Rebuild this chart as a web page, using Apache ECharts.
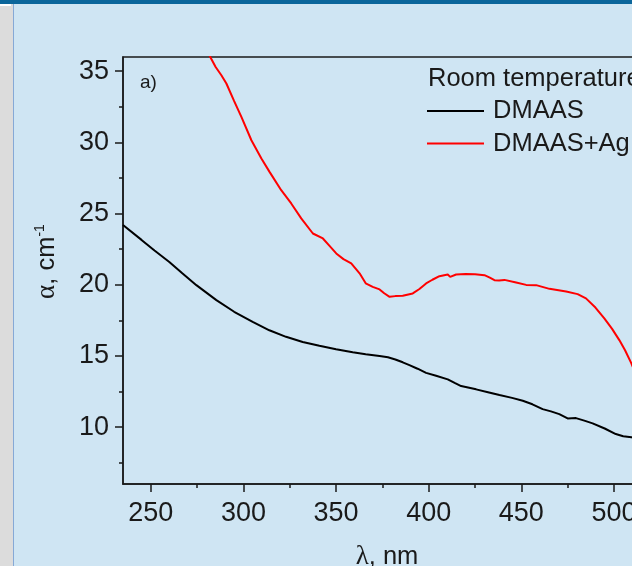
<!DOCTYPE html>
<html>
  <head>
    <meta charset="utf-8" />
    <title>Absorption spectra</title>
    <script src="https://cdn.jsdelivr.net/npm/echarts@6/dist/echarts.min.js"></script>
    <style>
      html, body { margin: 0; padding: 0; overflow: hidden; width: 632px; height: 566px; background: #cfe5f3; }
      #topbar { position: absolute; left: 0; top: 0; width: 632px; height: 4px; background: #0b669b; }
      #side { position: absolute; left: 0; top: 4px; width: 13px; height: 562px; background: #dcdcdc; border-right: 1px solid #86a9d6; }
      #corner { position: absolute; left: 0; top: 4px; width: 11px; height: 2px; background: #ffffff; }
      /* the plot runs a little past the right edge, as in the picture */
      #main { position: absolute; left: 0; top: 0; width: 651px; height: 566px; }
    </style>
  </head>
  <body>
    <div id="topbar"></div>
    <div id="side"></div>
    <div id="corner"></div>
    <div id="main"></div>

    <script type="text/javascript">
      // wavelength (nm) and absorption (cm-1)
      var dmaasX = [235, 245, 252, 260, 267, 274.6, 285.4, 295, 305, 314, 323, 332, 341, 350, 359, 366, 373.5, 378, 382, 386, 389.6, 394, 398.6, 404, 410.3, 414, 417.5, 425.6, 432, 438.2, 445, 450.8, 456, 461.5, 466, 470.5, 475, 479.5, 484, 488.5, 495, 501, 505, 509.4, 515, 520];
      var dmaasY = [24.2, 23.15, 22.4, 21.6, 20.8, 19.97, 18.92, 18.1, 17.39, 16.8, 16.34, 15.98, 15.71, 15.46, 15.25, 15.12, 15.0, 14.9, 14.75, 14.55, 14.35, 14.1, 13.81, 13.6, 13.35, 13.1, 12.88, 12.65, 12.45, 12.25, 12.05, 11.85, 11.6, 11.26, 11.1, 10.91, 10.61, 10.63, 10.45, 10.26, 9.9, 9.51, 9.35, 9.28, 9.15, 9.0];

      var agX = [278, 282.1, 285, 288.1, 290.8, 295, 298.9, 304.3, 309.7, 314.1, 320.4, 325.8, 331.2, 337.5, 342.9, 346, 350.1, 354, 358.2, 362.7, 366, 369.8, 373.5, 376, 378.9, 382, 386, 391.4, 395, 398.6, 402, 405.8, 410.3, 411.6, 414.8, 420, 425, 430.1, 433, 435.5, 438, 440.9, 447.2, 452.6, 458, 465.2, 474.2, 480.4, 484.9, 490, 494.8, 499, 502.9, 506, 509.4, 514, 520];
      var agY = [37.5, 36.0, 35.3, 34.72, 34.14, 32.9, 31.79, 30.15, 28.87, 27.93, 26.64, 25.71, 24.66, 23.6, 23.25, 22.8, 22.2, 21.8, 21.5, 20.8, 20.1, 19.85, 19.67, 19.4, 19.15, 19.2, 19.22, 19.39, 19.7, 20.09, 20.35, 20.6, 20.72, 20.55, 20.72, 20.75, 20.74, 20.67, 20.5, 20.32, 20.3, 20.34, 20.16, 19.99, 19.97, 19.71, 19.53, 19.34, 19.04, 18.4, 17.63, 16.9, 16.11, 15.4, 14.47, 13.0, 11.2];

      var seriesNames = ["DMAAS", "DMAAS+Ag"];
      var xMajor = [250, 300, 350, 400, 450, 500];
      var xMinor = [275, 325, 375, 425, 475];
      var yMajor = [10, 15, 20, 25, 30, 35];
      var yMinor = [7.5, 12.5, 17.5, 22.5, 27.5, 32.5];

      function pairs(xs, ys) {
        return xs.map(function (x, i) {
          return [x, ys[i]];
        });
      }

      var font = "Liberation Sans";
      var ink = "#1a1a1a";

      var myChart = echarts.init(document.getElementById("main"));

      var option = {
        backgroundColor: "transparent",
        animation: false,
        textStyle: { fontFamily: font },
        title: [
          {
            text: "a)",
            left: 140,
            top: 73,
            padding: 0,
            textStyle: { fontFamily: font, fontSize: 19, fontWeight: "normal", color: ink },
          },
          {
            text: "Room temperature",
            left: 428,
            top: 66,
            padding: 0,
            textStyle: { fontFamily: font, fontSize: 25.5, fontWeight: "normal", color: ink },
          },
        ],
        legend: {
          orient: "vertical",
          left: 427,
          top: 98,
          padding: 0,
          icon: "rect",
          itemWidth: 57,
          itemHeight: 2,
          itemGap: 6.6,
          data: seriesNames,
          textStyle: {
            fontFamily: font,
            fontSize: 25.5,
            lineHeight: 26,
            color: ink,
            padding: [0, 0, 0, 4],
          },
        },
        grid: {
          left: 123,
          top: 57,
          right: 0,
          bottom: 82,
          outerBoundsMode: "none",
          containLabel: false,
          show: true,
          backgroundColor: "transparent",
          borderColor: ink,
          borderWidth: 1.5,
        },
        xAxis: [
          {
            type: "value",
            min: 235,
            max: 520,
            position: "bottom",
            name: "{g|λ}, nm",
            nameLocation: "middle",
            nameGap: 59,
            nameTextStyle: {
              fontFamily: font,
              fontSize: 25.5,
              color: ink,
              rich: { g: { fontFamily: "Liberation Serif", fontSize: 27, color: ink } },
            },
            axisLine: { show: true, lineStyle: { color: ink, width: 1.5 } },
            axisTick: { show: true, inside: false, length: 8, customValues: xMajor, lineStyle: { color: ink, width: 1.5 } },
            axisLabel: { customValues: xMajor, margin: 16, fontFamily: font, fontSize: 27, color: ink },
            splitLine: { show: false },
          },
          {
            type: "value",
            min: 235,
            max: 520,
            position: "bottom",
            axisLine: { show: false },
            axisTick: { show: true, inside: false, length: 4, customValues: xMinor, lineStyle: { color: ink, width: 1.5 } },
            axisLabel: { show: false },
            splitLine: { show: false },
          },
        ],
        yAxis: [
          {
            type: "value",
            min: 6,
            max: 36,
            position: "left",
            name: "{g|α}, cm{sup|-1}",
            nameLocation: "middle",
            nameGap: 63,
            nameRotate: 90,
            nameTextStyle: {
              fontFamily: font,
              fontSize: 25.5,
              color: ink,
              padding: [0, 0, 0, 18],
              rich: {
                g: { fontFamily: "Liberation Serif", fontSize: 27, color: ink },
                sup: { fontFamily: font, fontSize: 14, color: ink, verticalAlign: "top", padding: [0, 0, 12, 0] },
              },
            },
            axisLine: { show: true, lineStyle: { color: ink, width: 1.5 } },
            axisTick: { show: true, inside: false, length: 8, customValues: yMajor, lineStyle: { color: ink, width: 1.5 } },
            axisLabel: { customValues: yMajor, margin: 14, fontFamily: font, fontSize: 27, color: ink },
            splitLine: { show: false },
          },
          {
            type: "value",
            min: 6,
            max: 36,
            position: "left",
            axisLine: { show: false },
            axisTick: { show: true, inside: false, length: 4, customValues: yMinor, lineStyle: { color: ink, width: 1.5 } },
            axisLabel: { show: false },
            splitLine: { show: false },
          },
        ],
        series: [
          {
            name: seriesNames[0],
            type: "line",
            symbol: "none",
            clip: true,
            data: pairs(dmaasX, dmaasY),
            lineStyle: { color: "#000000", width: 2 },
            itemStyle: { color: "#000000" },
          },
          {
            name: seriesNames[1],
            type: "line",
            symbol: "none",
            clip: true,
            data: pairs(agX, agY),
            lineStyle: { color: "#ff0000", width: 2 },
            itemStyle: { color: "#ff0000" },
          },
        ],
      };

      myChart.setOption(option);
    </script>
  </body>
</html>
